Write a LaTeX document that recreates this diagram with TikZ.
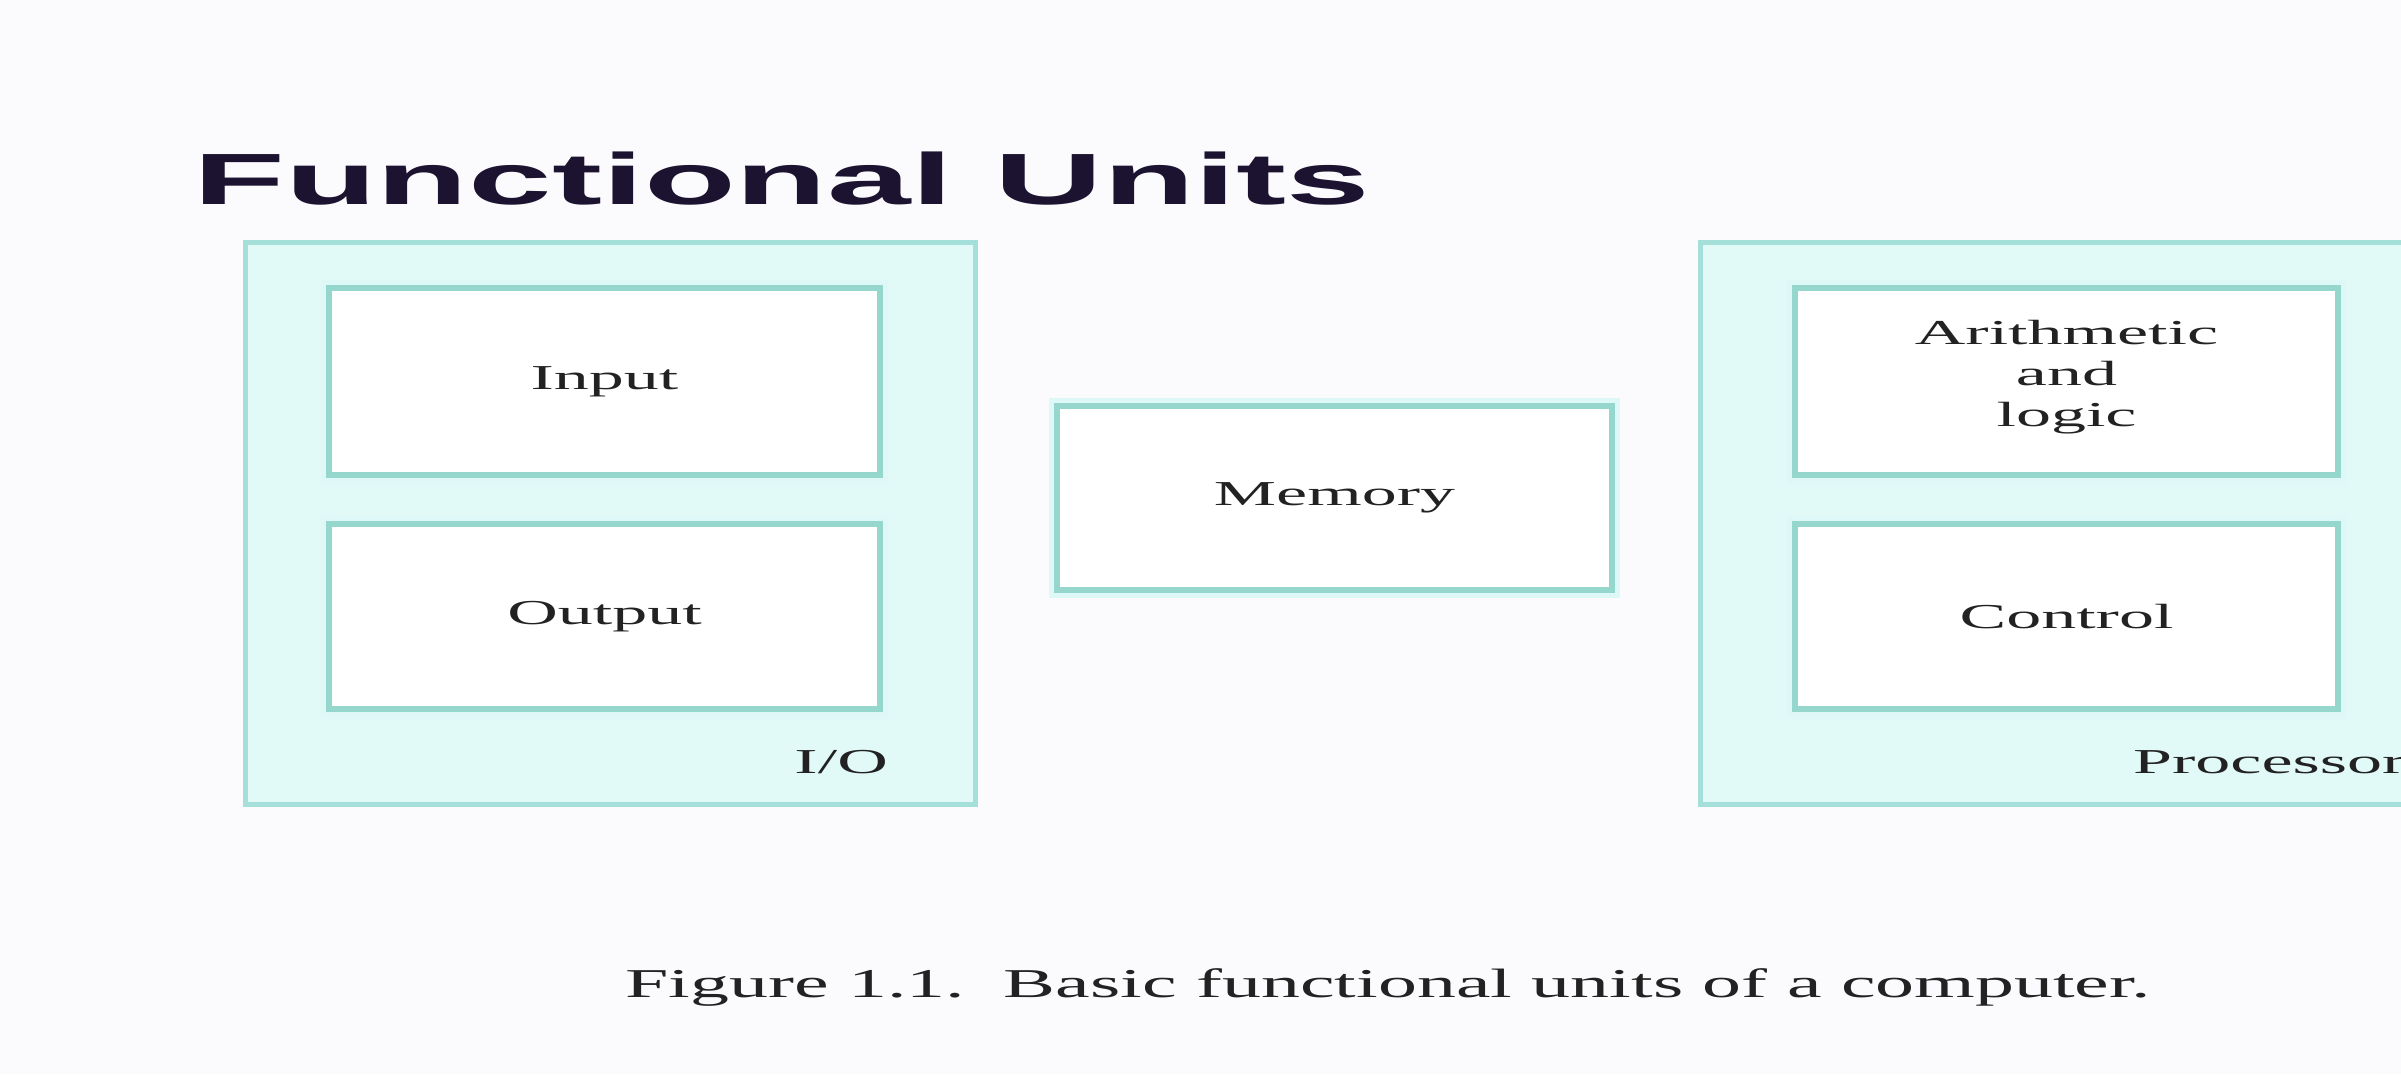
\documentclass[tikz,border=0pt]{standalone}
\usepackage{graphicx}
\usepackage{fontspec}
\setmainfont{Liberation Serif}
\newfontfamily\titlefont{Liberation Sans}
\definecolor{pagebg}{HTML}{FBFBFD}
\definecolor{groupfill}{HTML}{E1FAF8}
\definecolor{groupline}{HTML}{A4E0D9}
\definecolor{unitline}{HTML}{95D6CD}
\definecolor{halo}{HTML}{DDF8F6}
\definecolor{titleink}{HTML}{1C1330}
\definecolor{labelink}{HTML}{222222}
\tikzset{
  group/.style={draw=groupline, fill=groupfill, line width=5pt, inner sep=0pt},
  unit/.style={draw=unitline, fill=white, line width=6.5pt, inner sep=0pt,
    preaction={draw=halo, line width=16pt}},
  lbl/.style={text=labelink, inner sep=0pt, font=\fontsize{35}{41}\selectfont},
}
% horizontally widened text
\newcommand{\widetext}[2]{\scalebox{#1}[1]{#2}}
\begin{document}
\begin{tikzpicture}[x=1pt, y=-1pt]
  \fill[pagebg] (0,0) rectangle (2401,1074);
  \useasboundingbox (0,0) rectangle (2401,1074);
  \clip (0,0) rectangle (2401,1074);

  % heading
  \node[anchor=base west, inner sep=0pt, text=titleink] (title) at (193,204)
    {\widetext{2.07}{\titlefont\bfseries\fontsize{72.6}{80}\selectfont Functional Units}};

  % I/O group
  \node[group, minimum width=730, minimum height=562] (io) at (610,523) {};
  \node[unit, minimum width=551, minimum height=187] (input) at (604.5,381.5) {};
  \node[unit, minimum width=551, minimum height=185] (output) at (604.5,616.5) {};
  \node[lbl] (inputlbl) at (input.center) {\widetext{2}{Input}};
  \node[lbl] (outputlbl) at (output.center) {\widetext{2}{Output}};
  \node[lbl, anchor=base east] (iolbl) at (888,773) {\widetext{2}{I/O}};

  % memory
  \node[unit, minimum width=555, minimum height=184] (memory) at (1334.5,498) {};
  \node[lbl] (memorylbl) at (memory.center) {\widetext{2}{Memory}};

  % processor group
  \node[group, minimum width=740, minimum height=562] (proc) at (2070,523) {};
  \node[unit, minimum width=543, minimum height=187] (alu) at (2066.5,381.5) {};
  \node[unit, minimum width=543, minimum height=185] (control) at (2066.5,616.5) {};
  \node[lbl, align=center] (alulbl) at (2066.5,377)
    {\widetext{2}{Arithmetic}\\\widetext{2}{and}\\\widetext{2}{logic}};
  \node[lbl] (controllbl) at (control.center) {\widetext{2}{Control}};
  \node[lbl, anchor=base west] (proclbl) at (2133,773) {\widetext{2}{Processor}};

  % caption
  \node[anchor=base west, inner sep=0pt, text=labelink] (caption) at (625,997)
    {\widetext{1.9}{\fontsize{41}{48}\selectfont Figure 1.1.\ \ Basic functional units of a computer.}};
\end{tikzpicture}
\end{document}
